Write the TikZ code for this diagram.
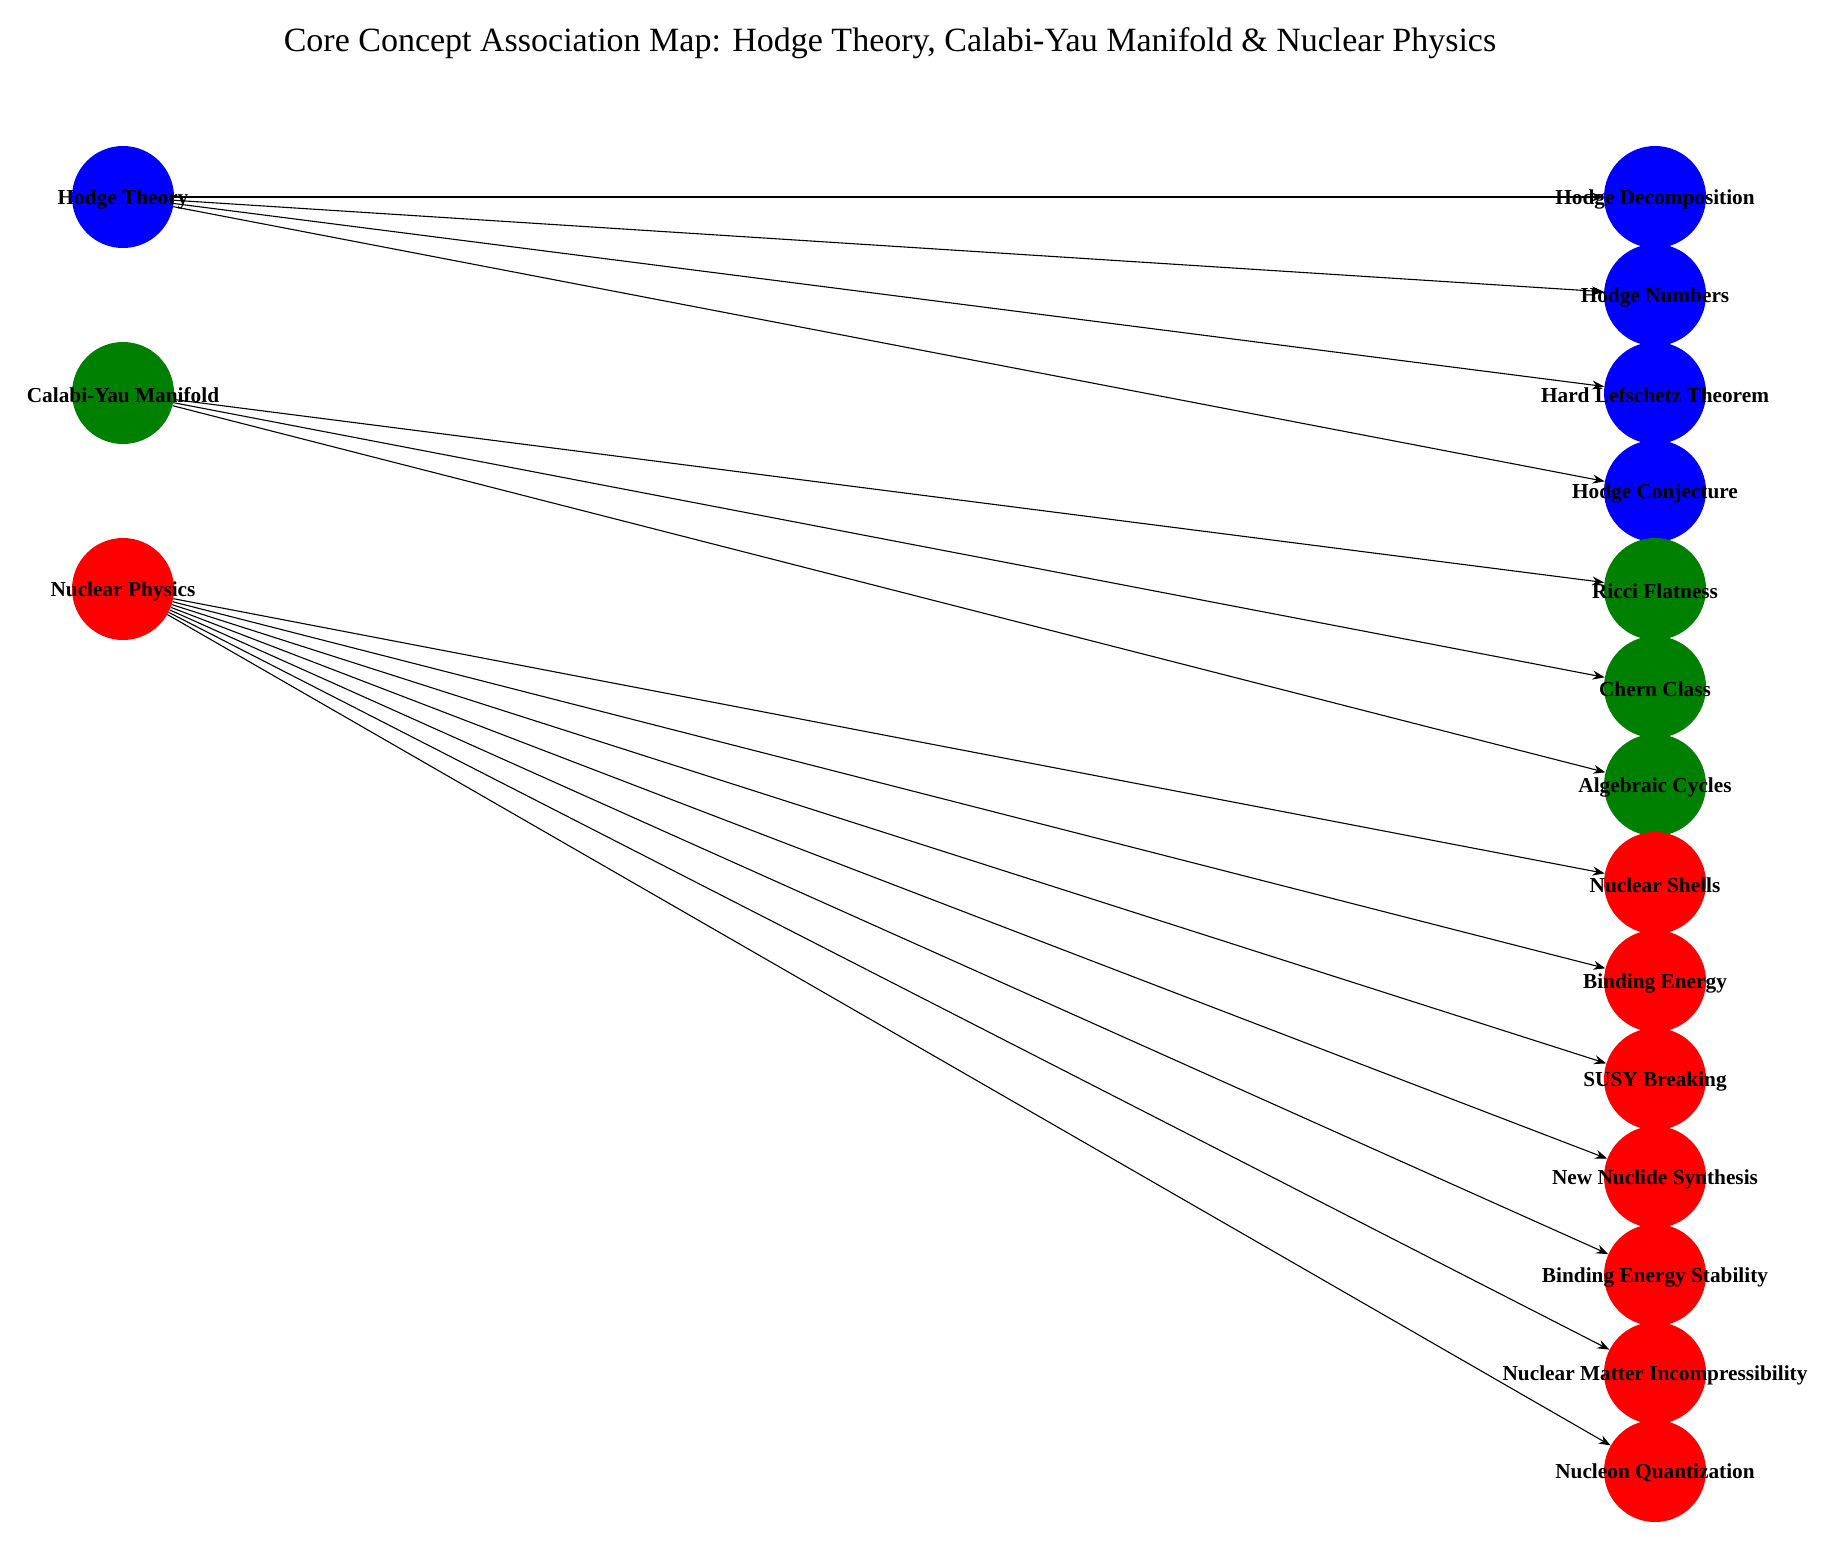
\documentclass[tikz,border=0pt]{standalone}
\usepackage{fontspec}
\setmainfont{Liberation Serif}
\usetikzlibrary{arrows.meta}
\definecolor{nblue}{RGB}{0,0,255}
\definecolor{ngreen}{RGB}{0,128,0}
\definecolor{nred}{RGB}{255,0,0}
\tikzset{
  dot/.style={circle, minimum size=102pt, inner sep=0pt, draw=none},
  lab/.style={inner sep=0pt, yshift=-2pt, font=\fontsize{21.3}{24}\selectfont\bfseries, text=black},
  conn/.style={draw=black, line width=1.1pt, -{Stealth[length=12pt,width=9pt]}},
}
\begin{document}
\begin{tikzpicture}[x=1pt,y=-1pt]
\useasboundingbox[fill=white] (0,0) rectangle (1830,1557);
\node[font=\fontsize{34}{38}\selectfont] (title) at (890,43) {Core Concept Association Map: Hodge Theory, Calabi-Yau Manifold \& Nuclear Physics};
% left nodes
\node[dot, fill=nblue] (ht) at (123,197) {};
\node[dot, fill=ngreen] (cy) at (123,393) {};
\node[dot, fill=nred] (np) at (123,589) {};
% right nodes
\node[dot, fill=nblue] (hd) at (1655,197) {};
\node[dot, fill=nblue] (hn) at (1655,295) {};
\node[dot, fill=nblue] (hl) at (1655,393) {};
\node[dot, fill=nblue] (hc) at (1655,491) {};
\node[dot, fill=ngreen] (rf) at (1655,589) {};
\node[dot, fill=ngreen] (cc) at (1655,687) {};
\node[dot, fill=ngreen] (ac) at (1655,785) {};
\node[dot, fill=nred] (ns) at (1655,883) {};
\node[dot, fill=nred] (be) at (1655,981) {};
\node[dot, fill=nred] (sb) at (1655,1079) {};
\node[dot, fill=nred] (nn) at (1655,1177) {};
\node[dot, fill=nred] (bs) at (1655,1275) {};
\node[dot, fill=nred] (nm) at (1655,1373) {};
\node[dot, fill=nred] (nq) at (1655,1471) {};
% connectors
\foreach \t in {hd,hn,hl,hc} \draw[conn] (ht) -- (\t);
\foreach \t in {rf,cc,ac} \draw[conn] (cy) -- (\t);
\foreach \t in {ns,be,sb,nn,bs,nm,nq} \draw[conn] (np) -- (\t);
% labels
\node[lab] (ht-l) at (ht) {Hodge Theory};
\node[lab] (cy-l) at (cy) {Calabi-Yau Manifold};
\node[lab] (np-l) at (np) {Nuclear Physics};
\node[lab] (hd-l) at (hd) {Hodge Decomposition};
\node[lab] (hn-l) at (hn) {Hodge Numbers};
\node[lab] (hl-l) at (hl) {Hard Lefschetz Theorem};
\node[lab] (hc-l) at (hc) {Hodge Conjecture};
\node[lab] (rf-l) at (rf) {Ricci Flatness};
\node[lab] (cc-l) at (cc) {Chern Class};
\node[lab] (ac-l) at (ac) {Algebraic Cycles};
\node[lab] (ns-l) at (ns) {Nuclear Shells};
\node[lab] (be-l) at (be) {Binding Energy};
\node[lab] (sb-l) at (sb) {SUSY Breaking};
\node[lab] (nn-l) at (nn) {New Nuclide Synthesis};
\node[lab] (bs-l) at (bs) {Binding Energy Stability};
\node[lab] (nm-l) at (nm) {Nuclear Matter Incompressibility};
\node[lab] (nq-l) at (nq) {Nucleon Quantization};
\end{tikzpicture}
\end{document}
